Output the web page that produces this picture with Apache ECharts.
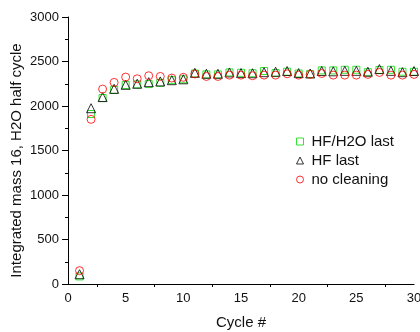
<!DOCTYPE html>
<html>
<head>
<meta charset="utf-8">
<script src="https://cdn.jsdelivr.net/npm/echarts@6/dist/echarts.min.js"></script>
<style>
  html, body { margin: 0; padding: 0; background: #fff; }
  #chart { width: 420px; height: 332px; }
</style>
</head>
<body>
<div id="chart"></div>
<script>
// Cycle numbers
const cycles = [1,2,3,4,5,6,7,8,9,10,11,12,13,14,15,16,17,18,19,20,21,22,23,24,25,26,27,28,29,30];

// Integrated mass 16 signal per H2O half cycle
const hfH2oLast = [85,1910,2090,2180,2235,2243,2246,2260,2290,2300,2365,2355,2355,2377,2373,2368,2393,2370,2385,2365,2360,2400,2400,2407,2407,2380,2405,2407,2385,2385];
const hfLast = [110,1975,2100,2193,2238,2250,2268,2276,2290,2300,2373,2362,2362,2377,2370,2368,2380,2385,2393,2370,2365,2393,2390,2395,2395,2385,2415,2395,2380,2393];
const noCleaning = [150,1850,2190,2265,2325,2306,2340,2332,2314,2322,2360,2332,2332,2347,2347,2340,2347,2347,2362,2347,2355,2365,2347,2347,2347,2355,2377,2347,2347,2355];

const seriesNames = ['HF/H2O last', 'HF last', 'no cleaning'];

const pair = (ys) => cycles.map((c, i) => [c, ys[i]]);

const font = '"Liberation Sans", Arial, sans-serif';
const chart = echarts.init(document.getElementById('chart'));

const axisCommon = {
  axisLine: { show: true, lineStyle: { color: '#000', width: 1 } },
  splitLine: { show: false },
  axisLabel: { color: '#111', fontSize: 13, fontFamily: font, formatter: (v) => String(v) },
  nameTextStyle: { color: '#111', fontSize: 15, fontFamily: font },
  nameLocation: 'middle',
  nameMoveOverlap: false
};

chart.setOption({
  animation: false,
  backgroundColor: '#fff',
  grid: { left: 68, right: 6, top: 17, bottom: 48, containLabel: false, outerBoundsMode: 'none' },
  xAxis: Object.assign({}, axisCommon, {
    type: 'value', min: 0, max: 30, interval: 5,
    name: 'Cycle #', nameGap: 31,
    axisTick: { show: false },
    minorTick: { show: true, splitNumber: 2, length: 3, lineStyle: { color: '#000' } },
    axisLabel: Object.assign({}, axisCommon.axisLabel, { margin: 8 })
  }),
  yAxis: Object.assign({}, axisCommon, {
    type: 'value', min: 0, max: 3000, interval: 500,
    name: 'Integrated mass 16, H2O half cycle', nameGap: 44,
    nameTextStyle: Object.assign({}, axisCommon.nameTextStyle, { padding: [0, 20, 0, 0] }),
    axisTick: { show: true, inside: false, length: 6, lineStyle: { color: '#000' } },
    minorTick: { show: true, splitNumber: 2, length: 3, lineStyle: { color: '#000' } },
    axisLabel: Object.assign({}, axisCommon.axisLabel, { margin: 9 })
  }),
  legend: {
    orient: 'vertical',
    left: 291, top: 129,
    itemWidth: 7, itemHeight: 7, itemGap: 4,
    itemStyle: { borderWidth: 1 },
    textStyle: { color: '#111', fontSize: 15, fontFamily: font, lineHeight: 15, padding: [0, 0, 0, 3] },
    data: seriesNames
  },
  series: [
    {
      name: seriesNames[0], type: 'scatter', symbol: 'rect', symbolSize: 7,
      itemStyle: { color: 'transparent', borderColor: '#00dd00', borderWidth: 1 },
      data: pair(hfH2oLast), z: 2
    },
    {
      name: seriesNames[1], type: 'scatter', symbol: 'triangle', symbolSize: 9,
      itemStyle: { color: 'transparent', borderColor: '#000', borderWidth: 1 },
      data: pair(hfLast), z: 3
    },
    {
      name: seriesNames[2], type: 'scatter', symbol: 'circle', symbolSize: 8,
      itemStyle: { color: 'transparent', borderColor: '#ff0000', borderWidth: 1 },
      data: pair(noCleaning), z: 4
    }
  ]
});
</script>
</body>
</html>
